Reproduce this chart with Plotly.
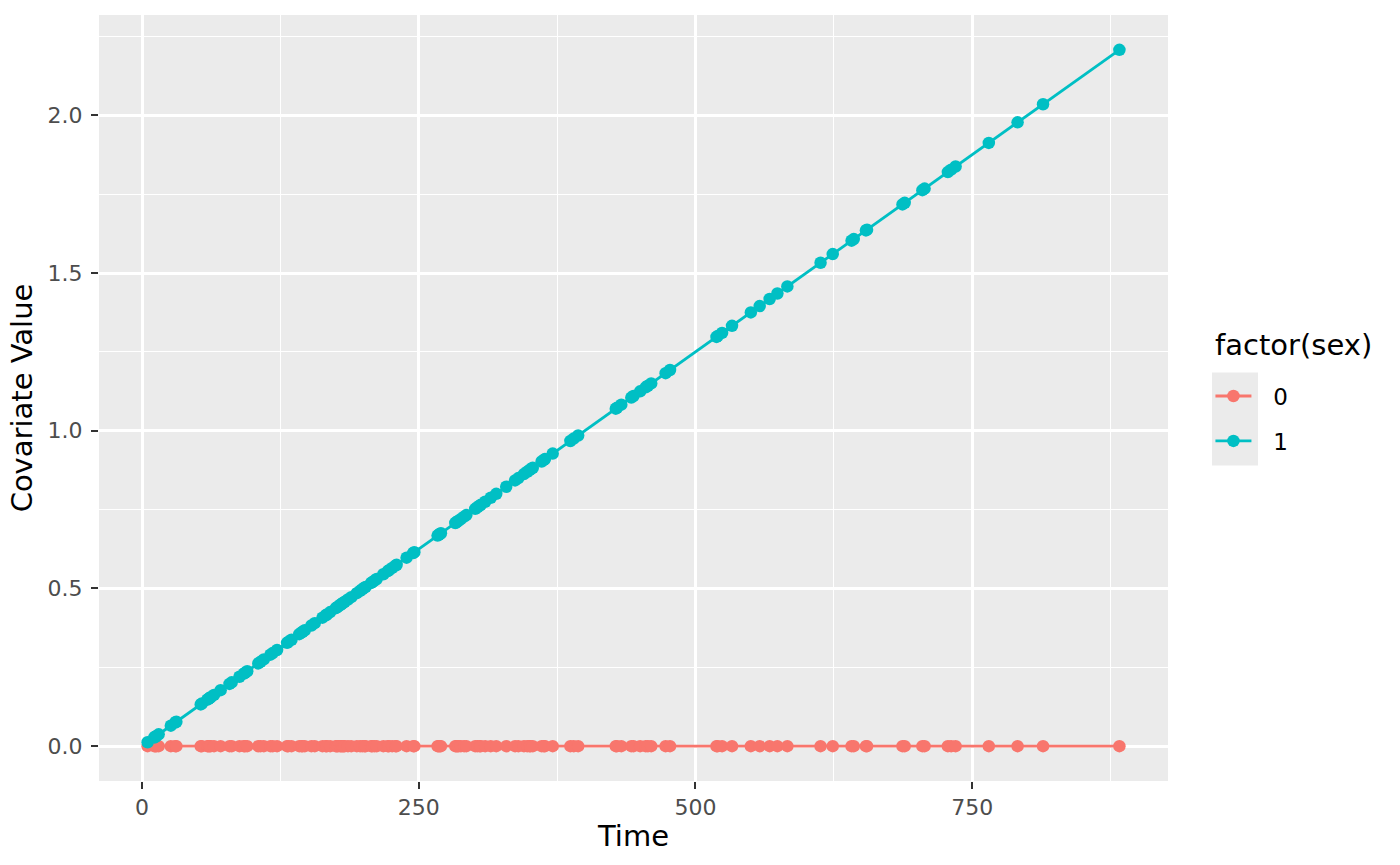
import plotly.graph_objects as go

# event times (x) shared by both groups
time_pts = [5, 11, 12, 13, 15, 26, 30, 31, 53, 54, 59, 60, 61, 62, 65, 71, 79, 81,
            88, 92, 93, 95, 105, 107, 110, 116, 118, 122, 131, 132, 135, 142, 144,
            145, 147, 153, 156, 163, 166, 167, 170, 175, 176, 177, 179, 180, 181,
            182, 183, 186, 189, 194, 197, 199, 201, 202, 207, 208, 210, 212, 218,
            222, 223, 226, 229, 230, 239, 245, 246, 267, 268, 269, 270, 283, 284,
            285, 286, 288, 291, 293, 301, 303, 305, 306, 310, 315, 320, 329, 337,
            340, 345, 348, 350, 351, 353, 361, 363, 364, 371, 387, 390, 394, 428,
            429, 433, 442, 444, 450, 455, 457, 460, 473, 477, 519, 520, 524, 533,
            550, 558, 567, 574, 583, 613, 624, 641, 643, 654, 655, 687, 689, 705,
            707, 728, 731, 735, 765, 791, 814, 883]

# covariate value, sex = 0 (139 values)
cov_sex0 = [0.0, 0.0, 0.0, 0.0, 0.0, 0.0, 0.0, 0.0, 0.0, 0.0,
            0.0, 0.0, 0.0, 0.0, 0.0, 0.0, 0.0, 0.0, 0.0, 0.0,
            0.0, 0.0, 0.0, 0.0, 0.0, 0.0, 0.0, 0.0, 0.0, 0.0,
            0.0, 0.0, 0.0, 0.0, 0.0, 0.0, 0.0, 0.0, 0.0, 0.0,
            0.0, 0.0, 0.0, 0.0, 0.0, 0.0, 0.0, 0.0, 0.0, 0.0,
            0.0, 0.0, 0.0, 0.0, 0.0, 0.0, 0.0, 0.0, 0.0, 0.0,
            0.0, 0.0, 0.0, 0.0, 0.0, 0.0, 0.0, 0.0, 0.0, 0.0,
            0.0, 0.0, 0.0, 0.0, 0.0, 0.0, 0.0, 0.0, 0.0, 0.0,
            0.0, 0.0, 0.0, 0.0, 0.0, 0.0, 0.0, 0.0, 0.0, 0.0,
            0.0, 0.0, 0.0, 0.0, 0.0, 0.0, 0.0, 0.0, 0.0, 0.0,
            0.0, 0.0, 0.0, 0.0, 0.0, 0.0, 0.0, 0.0, 0.0, 0.0,
            0.0, 0.0, 0.0, 0.0, 0.0, 0.0, 0.0, 0.0, 0.0, 0.0,
            0.0, 0.0, 0.0, 0.0, 0.0, 0.0, 0.0, 0.0, 0.0, 0.0,
            0.0, 0.0, 0.0, 0.0, 0.0, 0.0, 0.0, 0.0, 0.0]

# covariate value, sex = 1
cov_sex1 = [0.0125, 0.0275, 0.03, 0.0325, 0.0375, 0.065, 0.075, 0.0775, 0.1325,
            0.135, 0.1475, 0.15, 0.1525, 0.155, 0.1625, 0.1775, 0.1975, 0.2025,
            0.22, 0.23, 0.2325, 0.2375, 0.2625, 0.2675, 0.275, 0.29, 0.295, 0.305,
            0.3275, 0.33, 0.3375, 0.355, 0.36, 0.3625, 0.3675, 0.3825, 0.39,
            0.4075, 0.415, 0.4175, 0.425, 0.4375, 0.44, 0.4425, 0.4475, 0.45,
            0.4525, 0.455, 0.4575, 0.465, 0.4725, 0.485, 0.4925, 0.4975, 0.5025,
            0.505, 0.5175, 0.52, 0.525, 0.53, 0.545, 0.555, 0.5575, 0.565, 0.5725,
            0.575, 0.5975, 0.6125, 0.615, 0.6675, 0.67, 0.6725, 0.675, 0.7075,
            0.71, 0.7125, 0.715, 0.72, 0.7275, 0.7325, 0.7525, 0.7575, 0.7625,
            0.765, 0.775, 0.7875, 0.8, 0.8225, 0.8425, 0.85, 0.8625, 0.87, 0.875,
            0.8775, 0.8825, 0.9025, 0.9075, 0.91, 0.9275, 0.9675, 0.975, 0.985,
            1.07, 1.0725, 1.0825, 1.105, 1.11, 1.125, 1.1375, 1.1425, 1.15,
            1.1825, 1.1925, 1.2975, 1.3, 1.31, 1.3325, 1.375, 1.395, 1.4175,
            1.435, 1.4575, 1.5325, 1.56, 1.6025, 1.6075, 1.635, 1.6375, 1.7175,
            1.7225, 1.7625, 1.7675, 1.82, 1.8275, 1.8375, 1.9125, 1.9775, 2.035,
            2.2075]

x_ticks = [0, 250, 500, 750]
y_ticks = [0.0, 0.5, 1.0, 1.5, 2.0]
y_tick_labels = ["0.0", "0.5", "1.0", "1.5", "2.0"]

groups = [("0", cov_sex0, "#F8766D"), ("1", cov_sex1, "#00BFC4")]

fig = go.Figure()
for name, vals, col in groups:
    fig.add_trace(go.Scatter(
        x=time_pts, y=vals,
        # non-breaking + hair space push the label away from the key like ggplot
        name="\u00a0\u00a0\u200a" + name,
        mode="lines+markers",
        line=dict(color=col, width=2.8),
        marker=dict(color=col, size=12.5),
        legendgroup=name,
    ))

# ggplot-like expansion of 5% on each side
xmin, xmax = min(time_pts), max(time_pts)
ymin, ymax = 0.0, max(cov_sex1)
xpad = (xmax - xmin) * 0.05
ypad = (ymax - ymin) * 0.05

axis_common = dict(
    showline=False, zeroline=False,
    gridcolor="white", gridwidth=2.8,
    ticks="outside", ticklen=7, tickwidth=2.4, tickcolor="#333333",
    tickfont=dict(size=22, color="#4D4D4D"),
    title_font=dict(size=29, color="black"),
)

fig.update_xaxes(
    range=[xmin - xpad, xmax + xpad],
    tickvals=x_ticks,
    minor=dict(dtick=125, tick0=125, showgrid=True, gridcolor="white", gridwidth=1.4, ticks=""),
    title=dict(text="Time", standoff=6),
    **axis_common,
)
fig.update_yaxes(
    range=[ymin - ypad, ymax + ypad],
    tickvals=y_ticks, ticktext=y_tick_labels, ticklabelstandoff=4,
    minor=dict(dtick=0.25, tick0=0.25, showgrid=True, gridcolor="white", gridwidth=1.4, ticks=""),
    title=dict(text="Covariate Value", standoff=6),
    **axis_common,
)

# grey background behind the legend keys
fig.add_shape(type="rect", xref="paper", yref="paper",
              x0=1.0412, x1=1.0842, y0=0.412, y1=0.5334,
              fillcolor="#EBEBEB", line=dict(width=0), layer="below")

# legend title
fig.add_annotation(text="factor(sex)", xref="paper", yref="paper",
                   x=1.0418, y=0.5688, xanchor="left", yanchor="middle",
                   showarrow=False, font=dict(size=29, color="black"))

fig.update_layout(
    width=1400, height=865,
    margin=dict(l=99, r=232, t=15, b=84),
    plot_bgcolor="#EBEBEB", paper_bgcolor="white",
    font=dict(family="DejaVu Sans", color="black"),
    legend=dict(
        font=dict(size=23),
        x=1.0397, xanchor="left", y=0.5306, yanchor="top",
        bgcolor="rgba(0,0,0,0)", tracegroupgap=12, itemwidth=36,
    ),
    showlegend=True,
)

fig.write_html("out.html", config={"displayModeBar": False},
               post_script="document.body.style.margin='0';")
